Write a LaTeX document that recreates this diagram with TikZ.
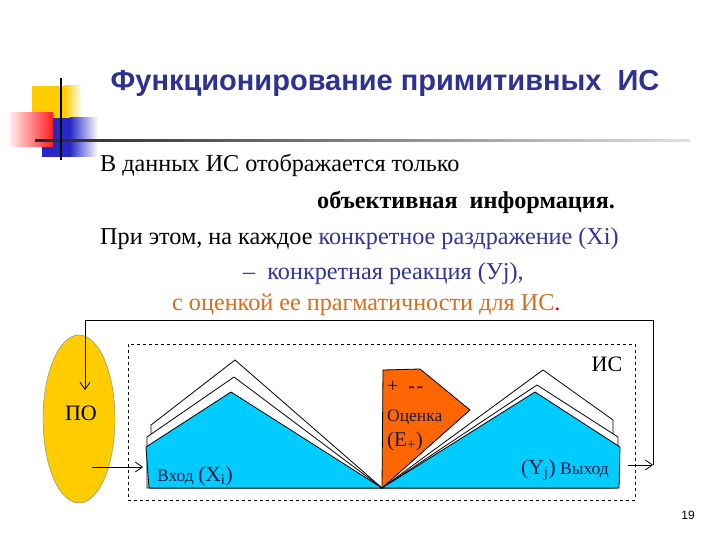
\documentclass[tikz,border=0pt]{standalone}
\usepackage{fontspec}
\setmainfont{Liberation Serif}
\newfontfamily\headfont{Liberation Sans}
\usetikzlibrary{arrows.meta,shapes.geometric}
\definecolor{titleblue}{RGB}{46,49,146}
\definecolor{txtblue}{RGB}{51,51,153}
\definecolor{txtorange}{RGB}{214,110,30}
\definecolor{dotred}{RGB}{190,0,40}
\definecolor{skyfill}{RGB}{0,204,255}
\definecolor{orfill}{RGB}{255,102,0}
\definecolor{poyellow}{RGB}{255,204,0}
\definecolor{decoyellow}{RGB}{255,204,0}
\definecolor{decoblue}{RGB}{40,40,200}
\definecolor{decored}{RGB}{255,30,30}
\definecolor{diagnavy}{RGB}{25,25,70}
\begin{document}
\begin{tikzpicture}[x=1pt,y=-1pt,
  txt/.style={anchor=base west, inner sep=0, font=\fontsize{24.2}{28}\selectfont},
  dtext/.style={anchor=base west, inner sep=0, text=diagnavy},
  layer/.style={draw=black, fill=white, line width=0.8pt, line join=miter},
  front/.style={draw=black, fill=skyfill, line width=0.8pt, line join=miter},
  arr/.style={-{Straight Barb[length=7pt,width=10pt]}, line width=0.8pt}]
\useasboundingbox (0,0) rectangle (720,540);
\fill[white] (0,0) rectangle (720,540);

% decoration
\fill[decoyellow] (32,86) rectangle (65,125);
\shade[left color=decoyellow, right color=white] (64.5,86) rectangle (82,125);
\fill[decoblue] (42,118) rectangle (70,157);
\shade[left color=decoblue, right color=white] (69.5,118) rectangle (98,157);
\shade[left color=decored!8, right color=decored] (10,113) rectangle (53,147);
\shade[left color=black!85, right color=black!12] (35,140) rectangle (690,142);
\fill[black] (60,78) rectangle (62,160);

% title
\node[anchor=base, inner sep=0, font=\headfont\bfseries\fontsize{29}{34}\selectfont, text=titleblue] (title) at (385,91) {Функционирование примитивных\ \ ИС};

% text lines
\node[txt] (l1) at (100,172) {В данных ИС отображается только};
\node[txt, font=\fontsize{24.2}{28}\selectfont\bfseries] (l2) at (317,208) {объективная\ \ информация.};
\node[txt] (l3) at (100,244) {При этом, на каждое \textcolor{txtblue}{конкретное раздражение (Xi)}};
\node[txt, text=txtblue] (l4) at (243,279) {–\ \ конкретная реакция (Уj),};
\node[txt, text=txtorange] (l5) at (172,310) {с оценкой ее прагматичности для ИС\textcolor{dotred}{.}};

% diagram
\node[ellipse, fill=poyellow, draw=black!50, line width=0.4pt, minimum width=72pt, minimum height=168pt, inner sep=0] (po) at (79,419) {};
\node[dtext, anchor=center, font=\fontsize{22}{24}\selectfont, text=black] (potext) at (81,413) {ПО};

\node[draw, dashed, line width=0.8pt, minimum width=507pt, minimum height=156pt, inner sep=0] (isbox) at (381.5,422) {};
\node[dtext, anchor=center, font=\fontsize{22}{24}\selectfont, text=black] (islabel) at (607,364) {ИС};

% left mountain
\draw[layer] (382,488) -- (235,360) -- (151,425) -- (151,488) -- cycle;
\draw[layer] (382,488) -- (234,377) -- (147,437) -- (147,488) -- cycle;
\draw[front] (382,488) -- (231,392) -- (146,447) -- (149,488) -- cycle;
% right mountain
\draw[layer] (382,488) -- (543,370) -- (613,420) -- (613,488) -- cycle;
\draw[layer] (382,488) -- (537,385) -- (618,437) -- (618,488) -- cycle;
\draw[front] (382,488) -- (535,392) -- (620,447) -- (619,488) -- cycle;
% orange
\draw[draw=black, fill=orfill, line width=0.8pt, line join=miter] (383,370) -- (420,369) -- (470,410) -- (382,488) -- cycle;

\node[dtext, font=\fontsize{20}{22}\selectfont] (pm) at (387,392) {+\ \ \textbf{-\kern1.5pt-}};
\node[dtext, font=\fontsize{17.5}{20}\selectfont] (ocenka) at (387,421) {Оценка};
\node[dtext, font=\fontsize{21}{24}\selectfont] (eplus) at (387,446) {(E\textsubscript{+})};

\node[dtext] (vhod) at (157,481) {\fontsize{17.5}{20}\selectfont Вход \fontsize{21.5}{24}\selectfont(X\textsubscript{i})};
\node[dtext] (vyhod) at (521,474) {\fontsize{21.5}{24}\selectfont(Y\textsubscript{j})\fontsize{17.5}{20}\selectfont\ Выход};

% connectors
\coordinate (inS) at (92,467);
\coordinate (inE) at (143,467);
\coordinate (outS) at (628,465);
\coordinate (fbR) at (653,465);
\coordinate (fbTR) at (653,320);
\coordinate (fbTL) at (85,320);
\coordinate (poIn) at (85,390);
\draw[arr] (inS) -- (inE);
\draw[arr] (outS) -- (fbR);
\draw[arr] (fbR) -- (fbTR) -- (fbTL) -- (poIn);

\node[anchor=center, inner sep=0, font=\headfont\fontsize{12}{14}\selectfont] (pnum) at (688,515) {19};
\end{tikzpicture}
\end{document}
